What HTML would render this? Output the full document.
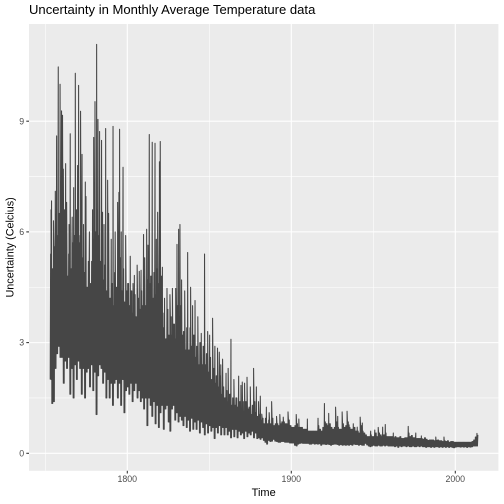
<!DOCTYPE html>
<html>
<head>
<meta charset="utf-8">
<title>Uncertainty in Monthly Average Temperature data</title>
<style>
html,body{margin:0;padding:0;background:#fff;}
svg{display:block;font-family:"Liberation Sans",Arial,sans-serif;}
</style>
</head>
<body>
<svg id="chart" width="504" height="504" viewBox="0 0 504 504" xmlns="http://www.w3.org/2000/svg">
<rect x="0" y="0" width="504" height="504" fill="#ffffff"/>
<rect x="29" y="24" width="469.4" height="446.8" fill="#EBEBEB"/>
<g id="grid"></g>
<path id="series" fill="none" stroke="#464646" stroke-width="1.07" stroke-linejoin="round"/>
<g id="axes"></g>
<text x="29" y="14" font-size="13.07" fill="#000">Uncertainty in Monthly Average Temperature data</text>
<text x="263.7" y="496" font-size="11" fill="#000" text-anchor="middle">Time</text>
<text transform="translate(13.5,247.4) rotate(-90)" font-size="10.8" fill="#000" text-anchor="middle">Uncertainty (Celcius)</text>
</svg>
<script>
const firstYear = 1753;
const xTickLabels = [1800, 1900, 2000];
const xMinorTicks = [1750, 1850, 1950];
const yTickLabels = [0, 3, 6, 9];
const yMinorTicks = [1.5, 4.5, 7.5];

const yearlyHighs = [
5.4,5.0,5.6,5.2,5.9,5.5,5.9,
5.6,5.0,5.5,4.8,5.4,5.0,5.7,5.9,5.6,5.0,
5.7,5.9,5.3,4.9,5.1,4.5,5.2,4.6,5.2,5.8,
6.0,5.6,5.9,5.2,5.4,4.7,5.1,4.4,5.0,4.2,
4.6,4.0,4.9,4.5,5.0,5.3,4.4,5.0,4.1,4.4,
4.6,4.0,4.4,3.8,4.3,3.7,4.2,3.9,4.4,4.0,
4.4,4.0,4.7,4.6,4.8,4.2,4.9,4.3,5.0,4.6,
4.8,3.8,3.4,3.1,3.9,3.2,3.7,3.2,3.5,3.1,
4.0,3.6,4.0,3.2,3.3,2.8,3.4,2.8,3.4,2.9,
3.2,2.6,2.9,2.4,3.0,2.4,2.9,2.4,2.7,2.2,
2.6,2.0,2.3,1.9,2.1,1.8,2.1,1.6,1.8,1.5,
1.7,1.4,1.6,1.3,1.5,1.3,1.5,1.25,1.4,1.2,
1.4,1.15,1.4,1.2,1.25,1.05,1.3,1.4,1.1,1.0,
1.05,.9,.95,.8,.95,.8,.9,.8,.95,.75,
.8,.8,.75,.8,.85,.85,.8,.8,.9,.75,
.7,.7,.75,.8,.7,.7,.7,.65,.65,.65,
.6,.6,.6,.6,.6,.6,.75,.65,.6,.7,
.85,.8,.75,.8,.7,.65,.7,.85,.7,.65,
.65,.8,.7,.75,.85,.7,.65,.65,.7,.6,
.6,.55,.75,.6,.55,.5,.45,.45,.5,.45,
.45,.55,.45,.55,.5,.45,.5,.55,.45,.45,
.45,.45,.42,.45,.42,.42,.45,.4,.4,.42,
.42,.55,.45,.48,.42,.42,.4,.4,.4,.4,
.38,.42,.38,.35,.36,.36,.36,.34,.35,.36,
.34,.34,.32,.34,.32,.34,.3,.32,.32,.3,
.3,.3,.3,.3,.3,.3,.3,.3,.3,.3,
.32,.36,.44,.5
];

const yearlyLows = [
2.0,1.35,1.4,2.3,2.7,2.9,2.6,
2.6,1.9,2.5,2.3,2.6,1.6,2.3,1.5,2.4,2.0,
2.5,2.3,1.6,2.3,1.5,2.2,2.3,1.8,2.4,1.7,
2.2,1.05,2.1,2.4,2.3,1.9,2.2,1.5,2.0,1.5,
1.9,1.3,1.9,2.0,1.5,1.9,1.3,2.0,1.1,1.7,
1.8,1.6,1.9,1.4,1.7,1.9,1.5,1.7,1.4,1.5,
1.2,1.5,.75,1.5,1.3,1.0,1.4,.8,1.3,.7,
1.1,1.3,.65,1.2,1.3,.85,.6,1.2,1.3,.9,
1.1,.85,1.0,.9,.75,1.0,.7,.9,.6,.95,
.65,.85,.65,.9,.55,.85,.7,.5,.8,.55,
.75,.6,.7,.4,.7,.55,.75,.5,.7,.5,
.7,.5,.6,.42,.65,.45,.65,.42,.6,.5,
.55,.4,.6,.45,.55,.5,.6,.42,.55,.4,
.42,.38,.42,.35,.3,.25,.35,.32,.33,.38,
.33,.32,.3,.3,.32,.32,.3,.3,.3,.28,
.28,.28,.22,.2,.25,.27,.28,.27,.27,.27,
.27,.25,.25,.27,.25,.26,.25,.26,.22,.25,
.25,.24,.25,.24,.22,.24,.25,.25,.24,.22,
.24,.22,.23,.22,.23,.22,.24,.22,.25,.24,
.24,.22,.24,.22,.22,.27,.23,.2,.18,.2,
.22,.2,.2,.22,.2,.2,.22,.2,.22,.2,
.2,.2,.2,.18,.2,.16,.2,.18,.2,.2,
.18,.2,.18,.18,.2,.18,.18,.2,.18,.2,
.18,.18,.16,.18,.18,.16,.18,.16,.18,.18,
.16,.18,.16,.18,.16,.18,.16,.18,.16,.15,
.17,.18,.18,.17,.18,.17,.18,.16,.18,.17,
.18,.2,.2,.2
];

const spikeTimes = [
1753.5,1753.8,1756.1,1756.9,1757.9,1759,1759.9,1760.5,1761,1762.4,1763,1764.5,1765.2,1767.3,1768.3,1769.7,1770.3,1771.5,1772.4,1774.4,1774.8,1778.8,1779.5,1780.3,1781.3,1782.1,1783.1,1784.3,1784.9,1786.8,1788,1788.6,1791.3,1794.1,1794.9,1795.3,1797.4,
1801.8,1803.5,1804.3,1807.3,1808.4,1809.9,1811.8,1812.6,1813.4,1815.2,1816.9,1818.5,1819.6,1820.1,1821.4,1824.2,1827.5,1829.5,1830.3,1831.3,1832.1,1833.1,1836.8,1838.6,1841.3,1845.1,1847.1,
1850.2,1852,1855,1856.1,1858.1,1860.2,1863.2,1867.9,1869.3,1870.1,1873,1877,1878.7,1881.1,1882,1884.8,1888,1895.1,1898,
1903,1904.6,1909.8,1916.3,1920.2,1922.8,1927,1928.3,1931,1934,1935.2,1937.8,1940.2,1942,1943.3,1948.4,1950.9,1953,1955.7,1957.3,1962.2,1966.3,1971.3,1975.9,1979.3,1988.1,1993.1,2013.2,
1755,1758.5,1761.7,1766.4,1769,1773.3,1776.9,1781.9,1785.8,1790.2,1792.6,1796.3,1799,1806,1810.6,1817.7,1822.7,1826,1835,1839.8,1843,1849,1853.4,1857,1861.5,1865,1871.5,1875,1880,1886.5,1891,1893
];

const spikeValues = [
6.6,6.84,7.1,8.6,10.47,10.0,9.28,9.16,7.7,7.85,6.8,6.2,8.66,7.2,10.3,7.8,9.97,9.27,8.1,7.35,6.96,6.6,8.56,9.53,11.08,9.05,8.72,8.48,6.53,8.8,7.4,6.5,8.86,6.8,7.07,8.78,7.75,
5.34,4.6,4.82,4.93,4.96,5.93,6.07,5.64,8.64,8.43,8.4,6.53,7.9,8.45,5.04,4.47,4.47,4.47,5.66,6.07,6.2,4.7,5.44,4.5,4.14,3.25,5.4,
3.2,3.66,2.85,2.74,2.55,2.17,3.09,2.09,1.84,1.93,2.06,2.3,1.8,1.55,1.06,1.25,1.4,.98,1.12,
1.05,.93,.93,.95,1.35,1.08,1.25,1.0,1.12,1.14,.77,.8,.71,.98,.82,.6,.63,.7,.71,.78,.55,.45,.73,.55,.47,.44,.44,.54,
6.3,6.5,6.6,6.4,6.6,6.2,6.0,6.6,6.2,5.8,6.0,6.0,5.9,5.1,5.3,5.8,4.2,4.3,4.4,4.0,3.7,3.3,2.9,2.4,2.3,2.0,1.9,1.8,1.4,1.1,1.0,1.05
];

const NS = 'http://www.w3.org/2000/svg';
function xScale(t) { return 127.3 + (t - 1800) * 1.64; }
function yScale(v) { return 453.3 - v * 36.9; }

const grid = document.getElementById('grid');
const axes = document.getElementById('axes');

function makeLine(parent, x1, y1, x2, y2, stroke, width) {
  const l = document.createElementNS(NS, 'line');
  l.setAttribute('x1', x1);
  l.setAttribute('y1', y1);
  l.setAttribute('x2', x2);
  l.setAttribute('y2', y2);
  l.setAttribute('stroke', stroke);
  l.setAttribute('stroke-width', width);
  parent.appendChild(l);
  return l;
}

function makeText(content, x, y, anchor) {
  const t = document.createElementNS(NS, 'text');
  t.setAttribute('x', x);
  t.setAttribute('y', y);
  t.setAttribute('font-size', '8.8');
  t.setAttribute('fill', '#4D4D4D');
  t.setAttribute('text-anchor', anchor);
  t.textContent = content;
  axes.appendChild(t);
  return t;
}

xMinorTicks.forEach(function (t) {
  const l = makeLine(grid, xScale(t), 24, xScale(t), 470.8, '#ffffff', 0.53);
  
  
});
yMinorTicks.forEach(function (v) {
  const l = makeLine(grid, 29, yScale(v), 498.4, yScale(v), '#ffffff', 0.53);
  
  
});
xTickLabels.forEach(function (t) {
  const g = makeLine(grid, xScale(t), 24, xScale(t), 470.8, '#ffffff', 1.07);
  
  
  const m = makeLine(axes, xScale(t), 470.8, xScale(t), 473.5, '#333333', 1.07);
  
  
  const lab = makeText(String(t), xScale(t), 482, 'middle');
  
  
});
yTickLabels.forEach(function (v) {
  const g = makeLine(grid, 29, yScale(v), 498.4, yScale(v), '#ffffff', 1.07);
  
  
  const m = makeLine(axes, 26.3, yScale(v), 29, yScale(v), '#333333', 1.07);
  
  
  const lab = makeText(String(v), 24.1, yScale(v) + 3.1, 'end');
  
  
});

const points = [];
yearlyHighs.forEach(function (high, i) {
  points.push([firstYear + i, yearlyLows[i]]);
  points.push([firstYear + i + 0.25, high]);
  points.push([firstYear + i + 0.5, yearlyLows[i]]);
  points.push([firstYear + i + 0.75, high]);
});
spikeTimes.forEach(function (t, i) {
  points.push([t, spikeValues[i]]);
});
points.sort(function (a, b) { return a[0] - b[0]; });

let d = '';
points.forEach(function (p, i) {
  d += (i ? 'L' : 'M') + xScale(p[0]).toFixed(2) + ' ' + yScale(p[1]).toFixed(2);
});
document.getElementById('series').setAttribute('d', d);
</script>
</body>
</html>
